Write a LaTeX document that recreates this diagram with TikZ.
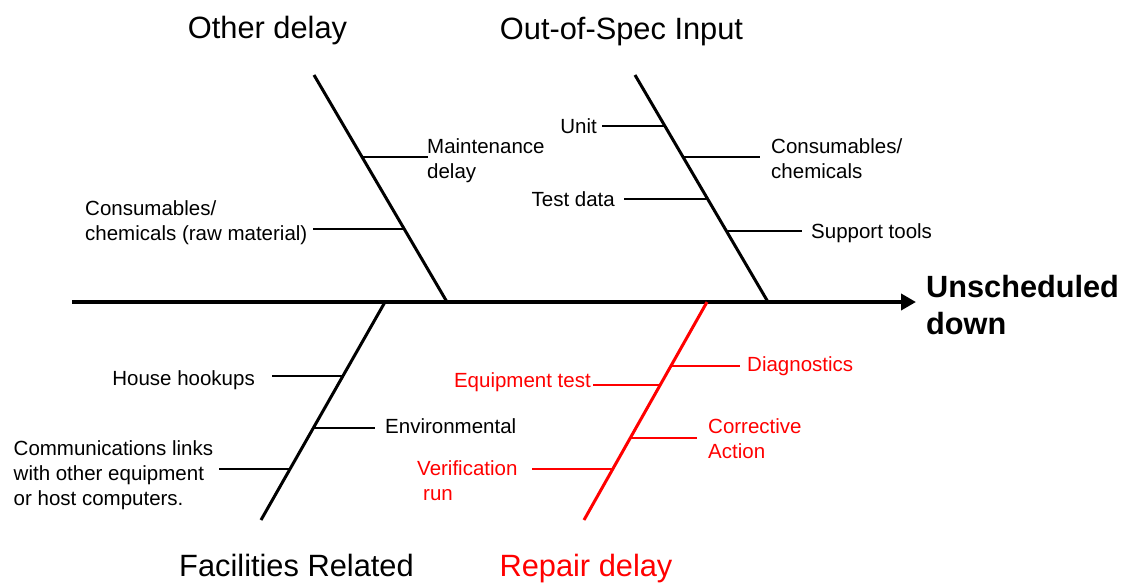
\documentclass[tikz,border=0pt]{standalone}
\usepackage{fontspec}
\setmainfont{Liberation Sans}
\usetikzlibrary{arrows.meta,calc}

\tikzset{
  lbl/.style={font=\fontsize{20.5}{25}\selectfont, inner sep=0pt, align=left},
  title/.style={font=\fontsize{30.8}{37}\selectfont, inner sep=0pt, anchor=base},
  effect/.style={font=\bfseries\fontsize{30.7}{37}\selectfont, inner sep=0pt, align=left, anchor=base west},
  spine/.style={line width=4.5pt, -{Triangle[length=15pt,width=16pt]}},
  bone/.style={line width=3pt},
  twig/.style={line width=1.6pt},
  hot/.style={color=red},
}

\begin{document}
\begin{tikzpicture}[x=1pt, y=-1pt]
\useasboundingbox (0,0) rectangle (1136,582);

% ---- main spine and effect (base anchors of multi-line labels sit on the last line) ----
\coordinate (spineL) at (72,302);
\coordinate (spineR) at (916,302);
\draw[spine] (spineL) -- (spineR);
\node[effect] (effect) at (926,334) {Unscheduled\\down};

% ---- bone end points ----
\coordinate (odT) at (314,75);  \coordinate (odB) at (447,302);
\coordinate (osT) at (635,75);  \coordinate (osB) at (768,302);
\coordinate (frT) at (385,302); \coordinate (frB) at (261,520);
\coordinate (rdT) at (707,302); \coordinate (rdB) at (584,520);

% ---- category titles ----
\node[title] (tOD) at (267.5,38) {Other delay};
\node[title] (tOS) at (621.5,39) {Out-of-Spec Input};
\node[title] (tFR) at (296.5,576) {Facilities Related};
\node[title, hot] (tRD) at (586,576) {Repair delay};

% ---- bones, with the points where the causes attach ----
\draw[bone] (odT) -- (odB)
  coordinate[pos=0.3612] (pMaint)
  coordinate[pos=0.6784] (pRaw);
\draw[bone] (osT) -- (osB)
  coordinate[pos=0.2247] (pUnit)
  coordinate[pos=0.3612] (pCons)
  coordinate[pos=0.5463] (pTest)
  coordinate[pos=0.6872] (pTools);
\draw[bone] (frT) -- (frB)
  coordinate[pos=0.3394] (pHouse)
  coordinate[pos=0.5780] (pEnv)
  coordinate[pos=0.7661] (pComm);
\draw[bone, hot] (rdT) -- (rdB)
  coordinate[pos=0.2936] (pDiag)
  coordinate[pos=0.3807] (pEquip)
  coordinate[pos=0.6239] (pCorr)
  coordinate[pos=0.7661] (pVerif);

% ---- Other delay causes ----
\node[lbl, anchor=base west] (lMaint) at (427,178) {Maintenance\\delay};
\coordinate (eMaint) at (428,157);
\draw[twig] (pMaint) -- (pMaint -| eMaint);

\node[lbl, anchor=base west] (lRaw) at (85,240) {Consumables/\\chemicals (raw material)};
\coordinate (eRaw) at (313,229);
\draw[twig] (pRaw) -- (pRaw -| eRaw);

% ---- Out-of-Spec Input causes ----
\node[lbl, anchor=base east] (lUnit) at (597,133) {Unit};
\coordinate (eUnit) at (602,126);
\draw[twig] (pUnit) -- (pUnit -| eUnit);

\node[lbl, anchor=base west] (lCons) at (771,178) {Consumables/\\chemicals};
\coordinate (eCons) at (760,157);
\draw[twig] (pCons) -- (pCons -| eCons);

\node[lbl, anchor=base east] (lTest) at (615,206) {Test data};
\coordinate (eTest) at (624,199);
\draw[twig] (pTest) -- (pTest -| eTest);

\node[lbl, anchor=base west] (lTools) at (811,238) {Support tools};
\coordinate (eTools) at (802,231);
\draw[twig] (pTools) -- (pTools -| eTools);

% ---- Facilities Related causes ----
\node[lbl, anchor=base east] (lHouse) at (255,385) {House hookups};
\coordinate (eHouse) at (272,376);
\draw[twig] (pHouse) -- (pHouse -| eHouse);

\node[lbl, anchor=base west] (lEnv) at (385,433) {Environmental};
\coordinate (eEnv) at (375,428);
\draw[twig] (pEnv) -- (pEnv -| eEnv);

\node[lbl, anchor=base west] (lComm) at (13.5,505) {Communications links\\with other equipment\\or host computers.};
\coordinate (eComm) at (219,469);
\draw[twig] (pComm) -- (pComm -| eComm);

% ---- Repair delay causes ----
\node[lbl, hot, anchor=base west] (lDiag) at (747,371) {Diagnostics};
\coordinate (eDiag) at (740,366);
\draw[twig, hot] (pDiag) -- (pDiag -| eDiag);

\node[lbl, hot, anchor=base east] (lEquip) at (591,387) {Equipment test};
\coordinate (eEquip) at (593,385);
\draw[twig, hot] (pEquip) -- (pEquip -| eEquip);

\node[lbl, hot, anchor=base west] (lCorr) at (708,458) {Corrective\\Action};
\coordinate (eCorr) at (697,438);
\draw[twig, hot] (pCorr) -- (pCorr -| eCorr);

\node[lbl, hot, anchor=base west] (lVerif) at (417,500) {Verification\\\hspace{6pt}run};
\coordinate (eVerif) at (532,469);
\draw[twig, hot] (pVerif) -- (pVerif -| eVerif);

\end{tikzpicture}
\end{document}
